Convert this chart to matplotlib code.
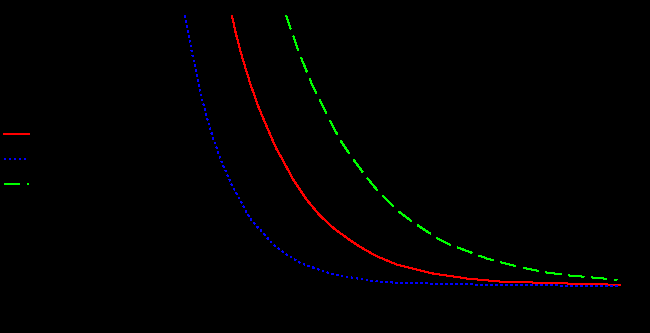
import matplotlib
matplotlib.use("Agg")
import matplotlib.pyplot as plt

# Data (arbitrary units)
blue_x = [15.98, 16.66, 17.30, 18.25, 19.19, 20.13, 21.19, 21.89, 23.08, 24.85,
          26.74, 28.30, 30.19, 32.70, 35.23, 37.74, 40.89, 44.02, 47.79, 51.57,
          55.98, 66.04, 75.47, 86.79, 97.55]
blue_y = [99.27, 92.66, 86.17, 77.61, 69.06, 62.31, 55.23, 51.30, 44.95, 37.25,
          30.53, 24.77, 20.73, 15.23, 11.56, 8.51, 6.31, 4.22, 3.01, 1.76,
          1.17, 0.73, 0.37, 0.18, 0.07]

red_x = [24.85, 25.47, 26.42, 27.36, 28.43, 29.87, 31.45, 33.21, 34.28, 36.47,
         39.00, 41.51, 44.02, 46.55, 49.06, 52.21, 55.98, 62.83, 69.25, 75.47,
         81.70, 88.11, 98.11]
red_y = [99.89, 94.13, 86.79, 80.66, 73.94, 65.98, 58.64, 50.72, 47.05, 39.08,
         31.74, 25.87, 21.36, 17.69, 14.39, 10.94, 7.89, 4.59, 2.75, 1.65,
         1.28, 0.92, 0.44]

green_x = [35.04, 36.17, 37.60, 40.19, 42.83, 45.28, 47.17, 49.68, 52.21, 54.72,
           56.47, 59.43, 63.77, 66.04, 73.02, 78.68, 84.34, 88.68, 93.02, 97.55]
green_y = [99.89, 93.50, 85.58, 73.21, 62.94, 53.76, 48.26, 41.54, 35.41, 30.53,
           27.23, 22.94, 17.43, 15.23, 10.09, 7.16, 4.95, 3.85, 3.12, 2.28]

labels = ["Curve 1", "Curve 2", "Curve 3"]

W, H = 650, 333
fig = plt.figure(figsize=(6.5, 3.33), dpi=100, facecolor="black")
ax = fig.add_axes([100 / W, 1 - 300 / H, 530 / W, 286 / H])
ax.set_facecolor("black")

lw = 0.72
l1, = ax.plot(red_x, red_y, color=(1, 0, 0), lw=lw, ls="-", antialiased=False)
l2, = ax.plot(blue_x, blue_y, color=(0, 0, 1), lw=lw, antialiased=False,
              dashes=(2, 4))
l3, = ax.plot(green_x, green_y, color=(0, 1, 0), lw=lw, antialiased=False,
              dashes=(16, 7))

ax.set_xlim(0, 100)
ax.set_ylim(-5.15, 100)
for s in ax.spines.values():
    s.set_color("black")
ax.tick_params(colors="black", labelleft=False, labelbottom=False)

leg = fig.legend([l1, l2, l3], labels, loc="upper left",
                 bbox_to_anchor=(4 / W, 1 - 127.5 / H), borderpad=0, borderaxespad=0,
                 handlelength=1.8, labelspacing=0.8, frameon=False,
                 labelcolor="black", fontsize=10)
for ln in leg.get_lines():
    ln.set_antialiased(False)
    ln.set_snap(False)

fig.savefig("out.png", dpi=100, facecolor="black")
